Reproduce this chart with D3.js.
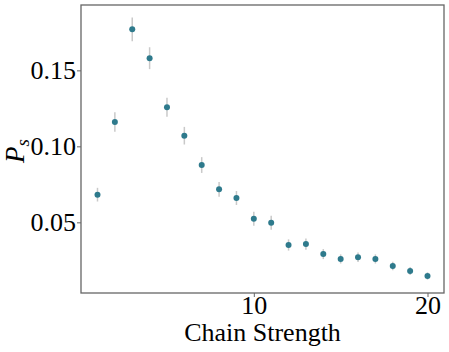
<!DOCTYPE html>
<html>
<head>
<meta charset="utf-8">
<script src="https://cdn.jsdelivr.net/npm/d3@7"></script>
<style>
  body { margin: 0; background: #fff; }
  svg { display: block; }
  svg text { font-family: 'Liberation Serif', 'Times New Roman', serif; }
</style>
</head>
<body>
<div id="graf"></div>
<script>
// Probabilidad de exito vs chain strength

strengths = [1, 2, 3, 4, 5, 6, 7, 8, 9, 10, 11, 12, 13, 14, 15, 16, 17, 18, 19, 20]
ps        = [0.0682, 0.1160, 0.1770, 0.1580, 0.1257, 0.1070, 0.0877, 0.0717, 0.0660, 0.0524,
             0.0497, 0.0351, 0.0357, 0.0291, 0.0259, 0.0270, 0.0259, 0.0213, 0.0180, 0.0147]
errs      = [0.0045, 0.0064, 0.0078, 0.0072, 0.0062, 0.0058, 0.0052, 0.0048, 0.0046, 0.0046,
             0.0046, 0.0037, 0.0037, 0.0033, 0.0030, 0.0031, 0.0030, 0.0028, 0.0026, 0.0024]
xTicks = [10, 20]
yTicks = [0.05, 0.10, 0.15]

ancho_total = 449
alto_total  = 352
margins = { top: 5, left: 81, right: 5, bottom: 59 }
ancho = ancho_total - margins.left - margins.right
alto  = alto_total - margins.top - margins.bottom

datos = strengths.map((s, i) => ({ s: s, p: ps[i], e: errs[i] }))

svg = d3.select('#graf').append('svg')
        .attr('width', ancho_total)
        .attr('height', alto_total)

g = svg.append('g')
       .attr('transform', `translate(${ margins.left }, ${ margins.top })`)

// Escaladores
x = d3.scaleLinear().domain([0.05, 20.95]).range([0, ancho])
y = d3.scaleLinear().domain([0.0035, 0.193]).range([alto, 0])

// ejes
xAxis = g.append('g')
  .call(d3.axisBottom(x).tickValues(xTicks).tickFormat(d3.format('d')).tickSize(4).tickSizeOuter(0))
  .attr('transform', `translate(0, ${ alto })`)
yAxis = g.append('g')
  .call(d3.axisLeft(y).tickValues(yTicks).tickFormat(d3.format('.2f')).tickSize(4).tickSizeOuter(0))

;[xAxis, yAxis].forEach(a => {
  a.attr('font-family', null).attr('font-size', null)
  a.select('.domain').remove()
  a.selectAll('line').attr('stroke', '#666').attr('stroke-width', 1)
  a.selectAll('text')
    .style('font-size', '26px')
    .attr('fill', '#000')
})
xAxis.selectAll('text').attr('dy', null).attr('y', 21)
yAxis.selectAll('text').attr('x', -5).attr('dy', '0.33em')

// marco
g.append('rect')
  .attr('x', 0)
  .attr('y', 0)
  .attr('width', ancho)
  .attr('height', alto)
  .attr('fill', 'none')
  .attr('stroke', '#666')
  .attr('stroke-width', 1.3)

// barras de error
g.selectAll('line.err')
  .data(datos)
  .enter()
  .append('line')
    .attr('class', 'err')
    .attr('x1', d => x(d.s))
    .attr('x2', d => x(d.s))
    .attr('y1', d => y(d.p - d.e))
    .attr('y2', d => y(d.p + d.e))
    .attr('stroke', '#c9c9c9')
    .attr('stroke-width', 1.5)

g.selectAll('circle')
  .data(datos)
  .enter()
  .append('circle')
    .attr('cx', d => x(d.s))
    .attr('cy', d => y(d.p))
    .attr('r', 3)
    .attr('fill', '#2e7a8c')

// etiquetas
svg.append('text')
  .attr('x', margins.left + ancho / 2)
  .attr('y', 341)
  .attr('text-anchor', 'middle')
  .style('font-size', '26px')
  .text('Chain Strength')

ylab = svg.append('text')
  .attr('transform', `translate(24, ${ margins.top + alto / 2 + 2 }) rotate(-90)`)
  .attr('text-anchor', 'middle')
  .style('font-size', '27px')
ylab.append('tspan').attr('font-style', 'italic').text('P')
ylab.append('tspan').attr('font-style', 'italic').style('font-size', '19px').attr('dy', 5).text('s')
</script>
</body>
</html>
